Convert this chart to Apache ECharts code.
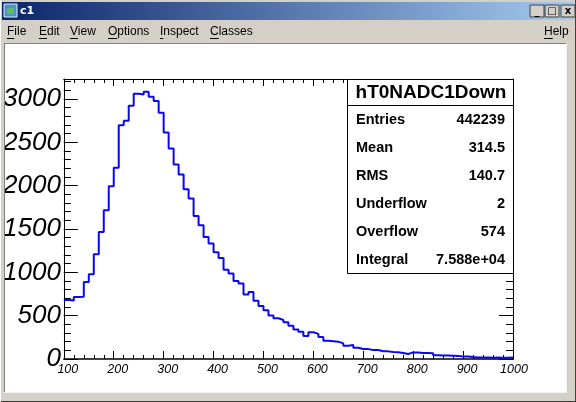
<!DOCTYPE html>
<html><head><meta charset="utf-8">
<script src="https://cdn.jsdelivr.net/npm/echarts@6/dist/echarts.min.js"></script>
<style>html,body{margin:0;padding:0;background:#d4d0c8;overflow:hidden}#c{width:576px;height:402px}</style>
</head><body><div id="c"></div>
<script>
// ---- data ----
const binEdges = [100,110,120,130,140,150,160,170,180,190,200,210,220,230,240,250,260,270,280,290,
  300,310,320,330,340,350,360,370,380,390,400,410,420,430,440,450,460,470,480,490,
  500,510,520,530,540,550,560,570,580,590,600,610,620,630,640,650,660,670,680,690,
  700,710,720,730,740,750,760,770,780,790,800,810,820,830,840,850,860,870,880,890,
  900,910,920,930,940,950,960,970,980,990,1000];
const counts = [
  680, 675, 715, 718, 888, 977, 1208, 1466, 1716, 1993,
  2205, 2697, 2747, 2921, 3060, 3050, 3082, 3024, 2975, 2840,
  2613, 2428, 2243, 2128, 1958, 1851, 1650, 1543, 1408, 1331,
  1230, 1165, 1031, 985, 900, 870, 745, 772, 672, 610,
  561, 503, 470, 450, 425, 385, 340, 315, 265, 308,
  290, 255, 210, 205, 200, 180, 154, 162, 130, 116,
  114, 105, 103, 90, 88, 82, 78, 70, 58, 76,
  76, 70, 68, 66, 42, 40, 40, 38, 36, 30,
  28, 22, 18, 16, 17, 15, 16, 14, 15, 16];
const xTickLabels = [100,200,300,400,500,600,700,800,900,1000];
const yTickLabels = [0,500,1000,1500,2000,2500,3000];
const histTitle = 'hT0NADC1Down';
const statLabels = ['Entries','Mean','RMS','Underflow','Overflow','Integral'];
const statValues = ['442239','314.5','140.7','2','574','7.588e+04'];
const windowTitle = 'c1';
const menuItems = ['File','Edit','View','Options','Inspect','Classes'];
const helpItem = 'Help';

// ---- layout ----
const X0 = 100, X1 = 1000, Y0 = 0, Y1 = 3230;
const GRID = {left: 62, right: 63, top: 79, bottom: 43};
const FONT = 'Liberation Sans';

const chart = echarts.init(document.getElementById('c'), null, {renderer: 'canvas'});

const histData = binEdges.map((e, i) => [e, counts[Math.min(i, counts.length - 1)]]);

const g = [];
// title bar
g.push({type:'rect', z:-10, shape:{x:2,y:2,width:572,height:18},
  style:{fill:new echarts.graphic.LinearGradient(0,0,1,0,[{offset:0,color:'#0a246a'},{offset:1,color:'#a6caf0'}])}});
g.push({type:'rect', z:-9, shape:{x:4,y:4,width:13,height:13}, style:{fill:'#4f8fd0', stroke:'#e8e8e8', lineWidth:1}});
g.push({type:'rect', z:-9, shape:{x:7,y:8,width:7,height:6}, style:{fill:'#5cbf5c'}});
g.push({type:'text', z:-9, x:20, y:11, style:{text:windowTitle, fill:'#fff', fontSize:11, fontWeight:'bold', fontFamily:'DejaVu Sans', verticalAlign:'middle', textVerticalAlign:'middle'}});
// window buttons
[[530,'_'],[545,'□'],[561,'x']].forEach(([bx, t]) => {
  g.push({type:'rect', z:-9, shape:{x:bx,y:5,width:14,height:12}, style:{fill:'#d4d0c8', stroke:'#404040', lineWidth:1}});
  g.push({type:'text', z:-8, x:bx+7, y:11, style:{text:t, fill:'#000', fontSize:10, fontWeight:'bold', fontFamily:'DejaVu Sans', align:'center', textAlign:'center', verticalAlign:'middle', textVerticalAlign:'middle'}});
});
// menu bar
const menuX = [7, 39, 70, 108, 160, 210];
const firstW = {F:7.3, E:8, V:8, O:9.3, I:3.3, C:8.7, H:8.7};
menuItems.forEach((m, i) => {
  g.push({type:'text', z:-9, x:menuX[i], y:32, style:{text:m, fill:'#000', fontSize:12, fontFamily:FONT, verticalAlign:'middle', textVerticalAlign:'middle'}});
  g.push({type:'line', z:-9, shape:{x1:menuX[i], y1:38.5, x2:menuX[i]+firstW[m[0]], y2:38.5}, style:{stroke:'#000', lineWidth:1}});
});
g.push({type:'text', z:-9, x:544, y:32, style:{text:helpItem, fill:'#000', fontSize:12, fontFamily:FONT, verticalAlign:'middle', textVerticalAlign:'middle'}});
g.push({type:'line', z:-9, shape:{x1:544, y1:38.5, x2:544+firstW.H, y2:38.5}, style:{stroke:'#000', lineWidth:1}});
// canvas area
g.push({type:'rect', z:-10, shape:{x:5,y:44,width:561,height:348}, style:{fill:'#ffffff'}});
g.push({type:'line', z:-9, shape:{x1:4.5,y1:43.5,x2:566,y2:43.5}, style:{stroke:'#808080', lineWidth:1}});
g.push({type:'line', z:-9, shape:{x1:4.5,y1:43.5,x2:4.5,y2:392}, style:{stroke:'#808080', lineWidth:1}});
g.push({type:'line', z:-9, shape:{x1:566.5,y1:43,x2:566.5,y2:392.5}, style:{stroke:'#f4f4f4', lineWidth:1}});
g.push({type:'line', z:-9, shape:{x1:4,y1:392.5,x2:567,y2:392.5}, style:{stroke:'#f4f4f4', lineWidth:1}});
// window outer border
g.push({type:'line', z:-9, shape:{x1:575.5,y1:0,x2:575.5,y2:402}, style:{stroke:'#404040', lineWidth:1}});
g.push({type:'line', z:-9, shape:{x1:0,y1:401.5,x2:576,y2:401.5}, style:{stroke:'#404040', lineWidth:1}});
// left border overlay (clips oversized labels)
g.push({type:'rect', z:100, shape:{x:0,y:43,width:4,height:351}, style:{fill:'#d4d0c8'}});
g.push({type:'line', z:101, shape:{x1:4.5,y1:43.5,x2:4.5,y2:392}, style:{stroke:'#808080', lineWidth:1}});
g.push({type:'line', z:101, shape:{x1:0.5,y1:0,x2:0.5,y2:402}, style:{stroke:'#ffffff', lineWidth:1}});

// stats box
const SB = {x:347, y:79, w:166, h:194};
g.push({type:'rect', z:50, shape:{x:SB.x+0.5,y:SB.y+0.5,width:SB.w,height:SB.h}, style:{fill:'#fff', stroke:'#000', lineWidth:1}});
g.push({type:'line', z:51, shape:{x1:SB.x,y1:105.5,x2:SB.x+SB.w,y2:105.5}, style:{stroke:'#000', lineWidth:1}});
g.push({type:'text', z:51, x:SB.x+SB.w/2+1, y:92.5, style:{text:histTitle, fill:'#000', fontSize:19, fontWeight:'bold', fontFamily:FONT, align:'center', textAlign:'center', verticalAlign:'middle', textVerticalAlign:'middle'}});
const rowY = [120, 148, 176, 204, 232, 260];
statLabels.forEach((l, i) => {
  g.push({type:'text', z:51, x:356, y:rowY[i], style:{text:l, fill:'#000', fontSize:14.5, fontWeight:'bold', fontFamily:FONT, verticalAlign:'middle', textVerticalAlign:'middle'}});
  g.push({type:'text', z:51, x:505, y:rowY[i], style:{text:statValues[i], fill:'#000', fontSize:14.5, fontWeight:'bold', fontFamily:FONT, align:'right', textAlign:'right', verticalAlign:'middle', textVerticalAlign:'middle'}});
});

const blk = {color:'#000', width:1};
const option = {
  animation: false,
  backgroundColor: '#d4d0c8',
  grid: {left:GRID.left, right:GRID.right, top:GRID.top, bottom:GRID.bottom, containLabel:false},
  xAxis: [
    {type:'value', position:'bottom', min:X0, max:X1, interval:100,
     axisLine:{show:true, onZero:false, lineStyle:{color:'#000', width:1.5}},
     axisTick:{show:true, inside:true, length:8, lineStyle:blk},
     minorTick:{show:true, splitNumber:5, length:4, lineStyle:blk},
     splitLine:{show:false}, minorSplitLine:{show:false},
     axisLabel:{color:'#000', fontStyle:'italic', fontFamily:FONT, fontSize:12.5, margin:4,
       formatter: v => xTickLabels.includes(v) ? (v === 1000 ? '{b|' + v + '}' : '{a|' + v + '}') : '',
       rich:{a:{padding:[0,0,0,8], fontStyle:'italic', fontFamily:FONT, fontSize:12.5, color:'#000'},
             b:{padding:[0,0,0,2], fontStyle:'italic', fontFamily:FONT, fontSize:12.5, color:'#000'}}}},
    {type:'value', position:'top', min:X0, max:X1, interval:100,
     axisLine:{show:true, onZero:false, lineStyle:blk},
     axisTick:{show:true, inside:true, length:7, lineStyle:blk},
     minorTick:{show:true, splitNumber:5, length:4, lineStyle:blk},
     splitLine:{show:false}, axisLabel:{show:false}}
  ],
  yAxis: [
    {type:'value', position:'left', min:Y0, max:Y1, interval:500,
     axisLine:{show:true, onZero:false, lineStyle:blk},
     axisTick:{show:true, inside:true, length:14, lineStyle:blk},
     splitLine:{show:false},
     axisLabel:{color:'#000', fontStyle:'italic', fontFamily:FONT, fontSize:26, margin:3,
       formatter: v => yTickLabels.includes(v) ? String(v) : ''}},
    {type:'value', position:'left', min:Y0, max:Y1, interval:100,
     axisLine:{show:false}, axisTick:{show:true, inside:true, length:7, lineStyle:blk},
     splitLine:{show:false}, axisLabel:{show:false}},
    {type:'value', position:'right', min:Y0, max:Y1, interval:500,
     axisLine:{show:true, onZero:false, lineStyle:blk},
     axisTick:{show:true, inside:true, length:14, lineStyle:blk},
     splitLine:{show:false}, axisLabel:{show:false}},
    {type:'value', position:'right', min:Y0, max:Y1, interval:100,
     axisLine:{show:false}, axisTick:{show:true, inside:true, length:7, lineStyle:blk},
     splitLine:{show:false}, axisLabel:{show:false}}
  ],
  series: [{
    type:'line', step:'end', xAxisIndex:0, yAxisIndex:0, data: histData,
    symbol:'none', clip:true, z:3,
    lineStyle:{color:'#0808ee', width:2}
  }],
  graphic: {elements: g}
};
chart.setOption(option);
</script>
</body></html>
